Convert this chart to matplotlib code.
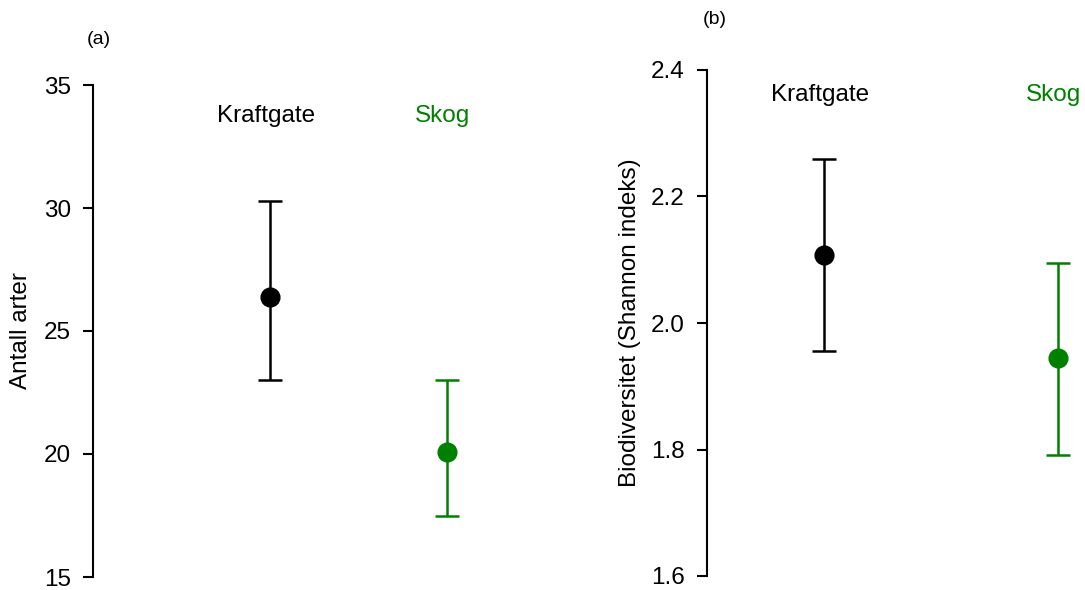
import matplotlib
matplotlib.use("Agg")
import matplotlib.pyplot as plt

plt.rcParams['font.family'] = ['Liberation Sans', 'DejaVu Sans']

groups = ["Kraftgate", "Skog"]
colors = ["black", "#008000"]

# (a) antall arter: mean with lower/upper limits
arter_mean = [26.38, 20.08]
arter_low = [23.0, 17.48]
arter_high = [30.27, 23.0]

# (b) Shannon index
shannon_mean = [2.108, 1.945]
shannon_low = [1.956, 1.792]
shannon_high = [2.260, 2.095]

W, H = 1085, 590
fig = plt.figure(figsize=(W / 100, H / 100), dpi=100)

ax1 = fig.add_axes([93 / W, 13 / H, 531 / W, 492 / H])
ax2 = fig.add_axes([707 / W, 14 / H, 374 / W, 506 / H])

FS = 17.5


def panel(ax, mean, low, high, ylim, yticks, ylabel, label_y, tag, tag_xy, fmt):
    for i, (m, lo, hi) in enumerate(zip(mean, low, high)):
        x = i + 1
        ax.errorbar([x], [m], yerr=[[m - lo], [hi - m]], fmt="o", color=colors[i],
                    ms=13.5, elinewidth=1.8, capsize=8.5, capthick=1.8, clip_on=False)
        ax.annotate(groups[i], (x, label_y), xytext=(-3, 0), textcoords="offset points",
                    ha="center", va="center", color=colors[i], fontsize=FS,
                    annotation_clip=False)
    ax.set_ylim(*ylim)
    ax.set_yticks(yticks)
    ax.set_yticklabels([fmt.format(t) for t in yticks])
    for s in ["top", "right", "bottom"]:
        ax.spines[s].set_visible(False)
    ax.spines["left"].set_linewidth(1.5)
    ax.set_xticks([])
    ax.tick_params(axis="y", length=7, width=1.5, pad=9, labelsize=FS)
    ax.set_ylabel(ylabel, fontsize=FS)
    fig.text(tag_xy[0] / W, 1 - tag_xy[1] / H, tag, fontsize=14, ha="center", va="center")


ax1.set_xlim(0, 3)
panel(ax1, arter_mean, arter_low, arter_high, (15, 35), [15, 20, 25, 30, 35],
      "Antall arter", 33.74, "(a)", (99, 39), "{:.0f}")
ax1.yaxis.set_label_coords(-61 / 531, 0.5)

ax2.set_xlim(0.5, 2.1)
panel(ax2, shannon_mean, shannon_low, shannon_high, (1.6, 2.4), [1.6, 1.8, 2.0, 2.2, 2.4],
      "Biodiversitet (Shannon indeks)", 2.361, "(b)", (715, 20), "{:.1f}")
ax2.yaxis.set_label_coords(-66 / 374, 0.5)

fig.savefig("out.png", dpi=100)
